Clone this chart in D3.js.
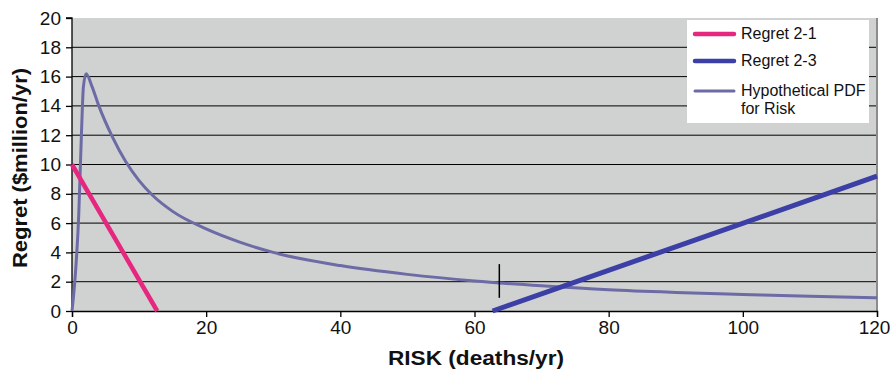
<!DOCTYPE html>
<html>
<head>
<meta charset="utf-8">
<script src="https://cdn.jsdelivr.net/npm/d3@7"></script>
<style>
  body { margin: 0; background: #fff; }
  text { font-family: "Liberation Sans", Arial, sans-serif; }
</style>
</head>
<body>
<div id="chart"></div>
<script>
const width = 892;
const height = 370;

// data
const regret21 = [[0, 10], [12.7, 0]];
const regret23 = [[62.7, 0], [120, 9.2]];
const pdfRisk = [
  [0, 0], [0.5, 2.5], [1.0, 6.5], [1.4, 12], [1.7, 15.3], [2.1, 16.2],
  [3, 15.3], [4, 14], [6, 11.9], [8, 10.2], [10, 8.9], [12, 7.9],
  [15, 6.8], [20, 5.6], [25, 4.7], [30, 4.0], [40, 3.1], [50, 2.5],
  [60, 2.05], [70, 1.72], [80, 1.45], [90, 1.27], [100, 1.13], [110, 1.0], [120, 0.9]
];
const marker = { x: 63.7, y0: 0.9, y1: 3.2 };
const xTicks = [0, 20, 40, 60, 80, 100, 120];
const yTicks = [0, 2, 4, 6, 8, 10, 12, 14, 16, 18, 20];
const legendItems = [
  { name: ["Regret 2-1"], color: "#e6277f", w: 4.5 },
  { name: ["Regret 2-3"], color: "#3b3fa6", w: 4.5 },
  { name: ["Hypothetical PDF", "for Risk"], color: "#6c6ba5", w: 3 }
];

const svg = d3.select("#chart")
  .append("svg")
  .attr("width", width)
  .attr("height", height);

const x = d3.scaleLinear().domain([0, 120]).range([72, 877]);
const y = d3.scaleLinear().domain([0, 20]).range([311, 18]);

// plot background
svg.append("rect")
  .attr("x", x(0))
  .attr("y", y(20))
  .attr("width", x(120) - x(0))
  .attr("height", y(0) - y(20))
  .attr("fill", "#d0d1d1");

// gridlines
svg.append("g")
  .selectAll("line")
  .data(yTicks.filter(d => d > 0 && d < 20))
  .join("line")
  .attr("x1", x(0))
  .attr("x2", x(120))
  .attr("y1", d => y(d))
  .attr("y2", d => y(d))
  .attr("stroke", "#000")
  .attr("stroke-width", 1);

// right border
svg.append("line")
  .attr("x1", x(120)).attr("x2", x(120))
  .attr("y1", y(20)).attr("y2", y(0))
  .attr("stroke", "#8c8c8c")
  .attr("stroke-width", 2);

// axes
const xAxis = svg.append("g")
  .attr("transform", `translate(0,${y(0)})`)
  .call(d3.axisBottom(x).tickValues(xTicks).tickSize(6).tickPadding(4));

const yAxis = svg.append("g")
  .attr("transform", `translate(${x(0)},0)`)
  .call(d3.axisLeft(y).tickValues(yTicks).tickSize(6).tickPadding(5));

[xAxis, yAxis].forEach(a => {
  a.attr("font-size", null);
  a.selectAll("path").attr("stroke", "#000").attr("stroke-width", 1.3);
  a.selectAll("line").attr("stroke", "#000").attr("stroke-width", 1.3);
  a.selectAll("text")
    .attr("fill", "#111")
    .style("font-size", "19px")
    .style("font-family", "'Liberation Sans', Arial, sans-serif");
});
yAxis.select(".domain").attr("d", `M-6,${y(20)}H0V${y(0)}`);
// keep the last x label inside the frame
xAxis.selectAll(".tick text").filter(d => d === 120).attr("dx", "-3");

// series
const line = d3.line().x(d => x(d[0])).y(d => y(d[1]));
const curve = d3.line().x(d => x(d[0])).y(d => y(d[1])).curve(d3.curveMonotoneX);

svg.append("path")
  .datum(pdfRisk)
  .attr("d", curve)
  .attr("fill", "none")
  .attr("stroke", "#6c6ba5")
  .attr("stroke-width", 3);

svg.append("path")
  .datum(regret21)
  .attr("d", line)
  .attr("fill", "none")
  .attr("stroke", "#e6277f")
  .attr("stroke-width", 4.5);

svg.append("path")
  .datum(regret23)
  .attr("d", line)
  .attr("fill", "none")
  .attr("stroke", "#3b3fa6")
  .attr("stroke-width", 5);

// marker
svg.append("line")
  .attr("x1", x(marker.x)).attr("x2", x(marker.x))
  .attr("y1", y(marker.y0)).attr("y2", y(marker.y1))
  .attr("stroke", "#000")
  .attr("stroke-width", 1.5);

// axis titles
svg.append("text")
  .attr("x", 476)
  .attr("y", 365)
  .attr("text-anchor", "middle")
  .attr("textLength", 176)
  .attr("lengthAdjust", "spacingAndGlyphs")
  .style("font-size", "20px")
  .style("font-weight", "bold")
  .attr("fill", "#111")
  .text("RISK (deaths/yr)");

svg.append("text")
  .attr("transform", `translate(27,168) rotate(-90)`)
  .attr("text-anchor", "middle")
  .attr("textLength", 200)
  .attr("lengthAdjust", "spacingAndGlyphs")
  .style("font-size", "20px")
  .style("font-weight", "bold")
  .attr("fill", "#111")
  .text("Regret ($million/yr)");

// legend
const legend = svg.append("g")
  .attr("transform", "translate(687,20)");

legend.append("rect")
  .attr("width", 182)
  .attr("height", 103)
  .attr("fill", "#fff");

const rows = [14, 41, 71];
legendItems.forEach((d, i) => {
  legend.append("line")
    .attr("x1", 8).attr("x2", 47)
    .attr("y1", rows[i]).attr("y2", rows[i])
    .attr("stroke", d.color)
    .attr("stroke-width", d.w)
    .attr("stroke-linecap", "round");
  d.name.forEach((t, j) => {
    legend.append("text")
      .attr("x", 54)
      .attr("y", rows[i] + 5 + j * 18)
      .style("font-size", "16px")
      .attr("fill", "#111")
      .text(t);
  });
});
</script>
</body>
</html>
